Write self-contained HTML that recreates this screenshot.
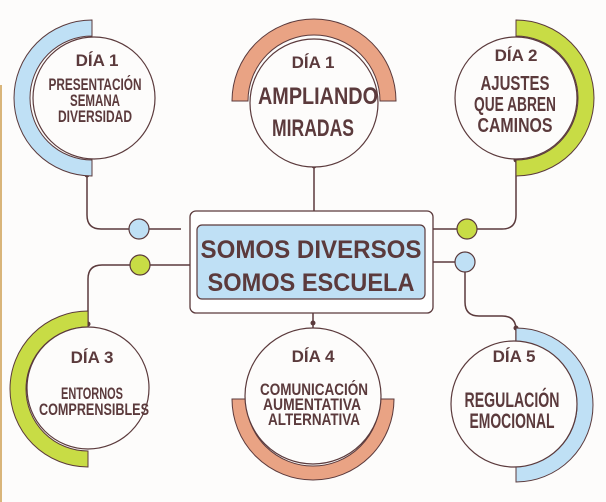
<!DOCTYPE html>
<html><head><meta charset="utf-8"><style>
html,body{margin:0;padding:0;background:#fdfcfb;}
svg{display:block}
text{font-family:"Liberation Sans",sans-serif;font-weight:bold;fill:#5b3a3c;text-anchor:middle}
.h{font-size:17px}
.c{font-size:17px}
</style></head><body>
<svg width="606" height="502" viewBox="0 0 606 502" xmlns="http://www.w3.org/2000/svg">
<rect x="0" y="85" width="2" height="417" fill="#d9b57a"/>
<g fill="none" stroke="#5b3a3c" stroke-width="1.5">
<path d="M87 175 V215 Q87 229 101 229 H129"/><path d="M149 229 H181"/>
<path d="M314 166 V211"/>
<path d="M516 160 V215 Q516 229 502 229 H477"/><path d="M457 229 H426"/>
<path d="M88 324 V279 Q88 265 102 265 H130"/><path d="M150 265 H190"/>
<path d="M313 313 V330"/>
<path d="M426 262 H455"/><path d="M465 272 V302 Q465 316 479 316 H502 Q516 316 516 330 V342"/>
</g>
<g fill="#5b3a3c"><circle cx="87" cy="175" r="2.5"/><circle cx="314" cy="166" r="2.5"/><circle cx="516" cy="160" r="2.5"/><circle cx="88" cy="324" r="2.5"/><circle cx="313" cy="323" r="2.5"/><circle cx="516" cy="328" r="2.5"/></g>
<g stroke="#5b3a3c" stroke-width="1.2">
<circle cx="139" cy="229" r="10" fill="#bfe0f5"/><circle cx="467" cy="229" r="10" fill="#c8dc45"/>
<circle cx="140" cy="265" r="10" fill="#c8dc45"/><circle cx="465" cy="262" r="10" fill="#bfe0f5"/>
</g>
<g stroke="#5b3a3c" stroke-width="1">
<path d="M92 20 A78 78 0 0 0 92 176 V160 A62 62 0 0 1 92 36 Z" fill="#bfe0f5"/>
<path d="M232 101 A82 82 0 0 1 396 101 H380 A66 66 0 0 0 248 101 Z" fill="#e9a384"/>
<path d="M516 20 A78 78 0 0 1 516 176 V160 A62 62 0 0 0 516 36 Z" fill="#c8dc45"/>
<path d="M88 311 A78 78 0 0 0 88 467 V451 A62 62 0 0 1 88 327 Z" fill="#c8dc45"/>
<path d="M232 399 A81 81 0 0 0 394 399 H380 A67 67 0 0 1 246 399 Z" fill="#e9a384"/>
<path d="M516 328 A77 77 0 0 1 516 482 V466 A61 61 0 0 0 516 344 Z" fill="#bfe0f5"/>
</g>
<g fill="#fdfcfb" stroke="#5b3a3c" stroke-width="1.2">
<circle cx="94" cy="98" r="61"/><circle cx="314" cy="103" r="64"/><circle cx="516" cy="98" r="61"/>
<circle cx="88" cy="388" r="61"/><circle cx="313" cy="396" r="68"/><circle cx="514" cy="404" r="63"/>
</g>
<rect x="190" y="211" width="243" height="102" rx="6" fill="#fff" stroke="#5b3a3c" stroke-width="1.3"/>
<rect x="197" y="225" width="228" height="74" rx="5" fill="#bfe0f5" stroke="#5b3a3c" stroke-width="1.2"/>
<text x="311" y="258" style="font-size:25px" textLength="221" lengthAdjust="spacingAndGlyphs">SOMOS DIVERSOS</text>
<text x="311" y="291" style="font-size:25px" textLength="207" lengthAdjust="spacingAndGlyphs">SOMOS ESCUELA</text>
<text class="h" x="97" y="66">DÍA 1</text>
<text class="c" x="95" y="90" textLength="93" lengthAdjust="spacingAndGlyphs">PRESENTACIÓN</text>
<text class="c" x="95" y="106" textLength="50" lengthAdjust="spacingAndGlyphs">SEMANA</text>
<text class="c" x="95" y="122" textLength="74" lengthAdjust="spacingAndGlyphs">DIVERSIDAD</text>
<text class="h" x="313" y="68">DÍA 1</text>
<text x="318" y="104" style="font-size:24px" textLength="120" lengthAdjust="spacingAndGlyphs">AMPLIANDO</text>
<text x="313" y="136" style="font-size:24px" textLength="82" lengthAdjust="spacingAndGlyphs">MIRADAS</text>
<text class="h" x="516" y="61">DÍA 2</text>
<text x="515" y="90" style="font-size:20px" textLength="69" lengthAdjust="spacingAndGlyphs">AJUSTES</text>
<text x="515" y="111" style="font-size:20px" textLength="82" lengthAdjust="spacingAndGlyphs">QUE ABREN</text>
<text x="515" y="132" style="font-size:20px" textLength="75" lengthAdjust="spacingAndGlyphs">CAMINOS</text>
<text class="h" x="92" y="363">DÍA 3</text>
<text class="c" x="92" y="399" textLength="62" lengthAdjust="spacingAndGlyphs">ENTORNOS</text>
<text class="c" x="94" y="415" textLength="110" lengthAdjust="spacingAndGlyphs">COMPRENSIBLES</text>
<text class="h" x="313" y="362">DÍA 4</text>
<text class="c" x="314" y="395" textLength="108" lengthAdjust="spacingAndGlyphs">COMUNICACIÓN</text>
<text class="c" x="312" y="410" textLength="98" lengthAdjust="spacingAndGlyphs">AUMENTATIVA</text>
<text class="c" x="314" y="425" textLength="92" lengthAdjust="spacingAndGlyphs">ALTERNATIVA</text>
<text class="h" x="514" y="362">DÍA 5</text>
<text x="512" y="407" style="font-size:21px" textLength="95" lengthAdjust="spacingAndGlyphs">REGULACIÓN</text>
<text x="512" y="428" style="font-size:21px" textLength="85" lengthAdjust="spacingAndGlyphs">EMOCIONAL</text>
</svg>
</body></html>
